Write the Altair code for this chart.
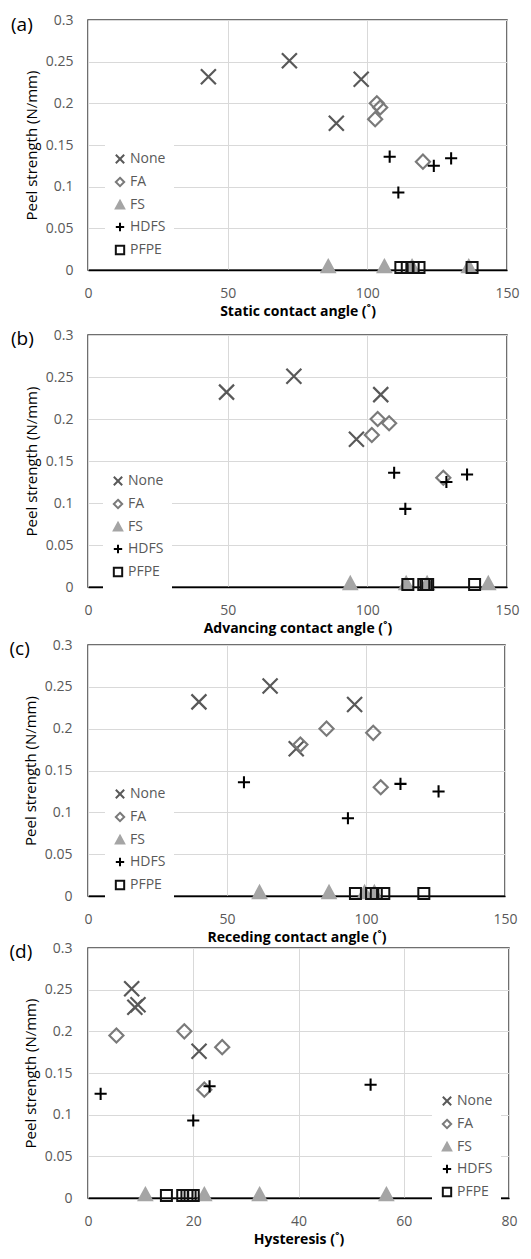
import altair as alt
import pandas as pd

SERIES = ["None", "FA", "FS", "HDFS", "PFPE"]
PANEL_LABELS = ["(a)", "(b)", "(c)", "(d)"]
X_TITLES = ["Static contact angle (˚)", "Advancing contact angle (˚)",
            "Receding contact angle (˚)", "Hysteresis (˚)"]
X_MAX = [150, 150, 150, 80]
X_TICKS = [[0, 50, 100, 150], [0, 50, 100, 150], [0, 50, 100, 150], [0, 20, 40, 60, 80]]
Y_TICKS = [0, 0.05, 0.1, 0.15, 0.2, 0.25, 0.3]
Y_TITLE = "Peel strength (N/mm)"

# peel strength of each sample (same samples in every panel)
none_y = [0.232, 0.251, 0.229, 0.176]
fa_y = [0.200, 0.195, 0.181, 0.130]
fs_y = [0.004, 0.004, 0.004, 0.004]
hdfs_y = [0.136, 0.093, 0.125, 0.134]
pfpe_y = [0.003, 0.003, 0.003, 0.003, 0.003]

# (a) static contact angle
none_static = [43.1, 72.1, 97.8, 88.9]
fa_static = [103.4, 104.6, 102.8, 119.9]
fs_static = [86.0, 106.1, 116.0, 136.3]
hdfs_static = [108.0, 111.1, 123.8, 130.0]
pfpe_static = [112.0, 114.3, 116.4, 118.5, 137.5]

# (b) advancing contact angle
none_adv = [49.6, 73.7, 104.8, 96.1]
fa_adv = [103.7, 107.8, 101.6, 127.2]
fs_adv = [93.9, 113.9, 121.4, 143.3]
hdfs_adv = [109.6, 113.6, 128.3, 135.7]
pfpe_adv = [114.5, 120.2, 121.0, 121.6, 138.4]

# (c) receding contact angle
none_rec = [39.9, 65.5, 95.9, 74.9]
fa_rec = [85.8, 102.6, 76.4, 105.3]
fs_rec = [61.7, 86.7, 99.5, 103.0]
hdfs_rec = [56.1, 93.5, 126.1, 112.4]
pfpe_rec = [96.2, 102.0, 103.7, 106.4, 120.8]

# (d) hysteresis
none_hys = [9.5, 8.3, 8.9, 21.1]
fa_hys = [18.3, 5.4, 25.5, 22.1]
fs_hys = [10.9, 22.1, 32.6, 56.7]
hdfs_hys = [53.7, 20.0, 2.4, 23.1]
pfpe_hys = [14.9, 18.0, 18.8, 19.4, 20.0]

Y_LISTS = [none_y, fa_y, fs_y, hdfs_y, pfpe_y]
X_LISTS = [
    [none_static, fa_static, fs_static, hdfs_static, pfpe_static],
    [none_adv, fa_adv, fs_adv, hdfs_adv, pfpe_adv],
    [none_rec, fa_rec, fs_rec, hdfs_rec, pfpe_rec],
    [none_hys, fa_hys, fs_hys, hdfs_hys, pfpe_hys],
]

SHAPE_RANGE = ["M-1,-1L1,1M-1,1L1,-1", "M0,-1L1,0L0,1L-1,0Z",
               "M0,-1L1,0.85L-1,0.85Z", "M0,-1L0,1M-1,0L1,0", "square"]
STROKE_RANGE = ["#595959", "#7a7a7a", "#a5a5a5", "#000000", "#111111"]
FILL_RANGE = ["transparent", "transparent", "#a5a5a5", "transparent", "transparent"]
SIZE_RANGE = [240, 170, 196, 225, 121]
SW_RANGE = [2.5, 1.6, 1.0, 2.2, 2.0]

WIDTHS = [419, 419, 417, 421]
HEIGHTS = [250, 252, 251, 250]
LABEL_X = [-77, -77, -78.5, -78.5]
LABEL_Y = [11, 10, 10, 10]
YLABEL_PAD = [15, 15, 16, 16]
LEGEND_POS = [(17, 124), (15, 131), (17, 134), (344, 138)]


def panel(i):
    rows = []
    for s, xs, ys in zip(SERIES, X_LISTS[i], Y_LISTS):
        for xv, yv in zip(xs, ys):
            rows.append({"series": s, "x": xv, "y": yv})
    df = pd.DataFrame(rows)
    lx, ly = LEGEND_POS[i]
    leg = alt.Legend(orient="none", legendX=lx, legendY=ly, direction="vertical",
                     title=None, fillColor="white", padding=8, labelFontSize=14,
                     labelColor="#595959", symbolSize=70, symbolStrokeWidth=2,
                     rowPadding=5, labelOffset=3)
    sc = dict(domain=SERIES)
    rev = dict(domain=SERIES[::-1])
    pts = alt.Chart(df).mark_point(filled=False, opacity=1).encode(
        x=alt.X("x:Q", scale=alt.Scale(domain=[0, X_MAX[i]], nice=False),
                axis=alt.Axis(values=X_TICKS[i], title=X_TITLES[i], labelFlush=False)),
        y=alt.Y("y:Q", scale=alt.Scale(domain=[0, 0.3], nice=False),
                axis=alt.Axis(values=Y_TICKS, format="~g", title=Y_TITLE,
                              labelPadding=YLABEL_PAD[i])),
        shape=alt.Shape("series:N", scale=alt.Scale(range=SHAPE_RANGE, **sc), legend=leg),
        stroke=alt.Stroke("series:N", scale=alt.Scale(range=STROKE_RANGE, **sc), legend=leg),
        fill=alt.Fill("series:N", scale=alt.Scale(range=FILL_RANGE, **sc), legend=leg),
        size=alt.Size("series:N", scale=alt.Scale(range=SIZE_RANGE[::-1], **rev), legend=None),
        strokeWidth=alt.StrokeWidth("series:N", scale=alt.Scale(range=SW_RANGE[::-1], **rev),
                                    legend=None),
    )
    lab = alt.Chart(pd.DataFrame({"label": [PANEL_LABELS[i]]})).mark_text(
        align="left", baseline="alphabetic", fontSize=19, color="black", font="Open Sans"
    ).encode(text="label:N", x=alt.value(LABEL_X[i]), y=alt.value(LABEL_Y[i]))
    return alt.layer(pts, lab).properties(width=WIDTHS[i], height=HEIGHTS[i])


RES = dict(shape="independent", stroke="independent", fill="independent",
           size="independent", strokeWidth="independent")
LRES = dict(shape="independent", stroke="independent", fill="independent")

top = alt.vconcat(panel(0), panel(1), spacing=8).resolve_scale(**RES).resolve_legend(**LRES)
bot = alt.vconcat(panel(2), panel(3), spacing=-5).resolve_scale(**RES).resolve_legend(**LRES)

chart = alt.vconcat(top, bot, spacing=1).resolve_scale(**RES).resolve_legend(
    **LRES
).properties(
    padding={"left": 0, "top": 4, "right": 0, "bottom": 3}
).configure(font="Open Sans").configure_view(
    stroke="#404040", strokeWidth=1.5, fill="white"
).configure_axis(
    grid=True, gridColor="#d9d9d9", gridWidth=1, ticks=False, tickSize=0,
    labelColor="#595959", labelFontSize=14, titleColor="black", domain=False,
    labelFont="Open Sans", titleFont="Open Sans"
).configure_axisX(
    labelPadding=16.5, titleFontWeight="bold", titleFontSize=14, titlePadding=3.5,
    domain=True, domainColor="black", domainWidth=1.5
).configure_axisY(
    titleFontWeight="normal", titleFontSize=15, titlePadding=6
)

chart.save("out.html", embed_options={"renderer": "svg", "actions": False})
